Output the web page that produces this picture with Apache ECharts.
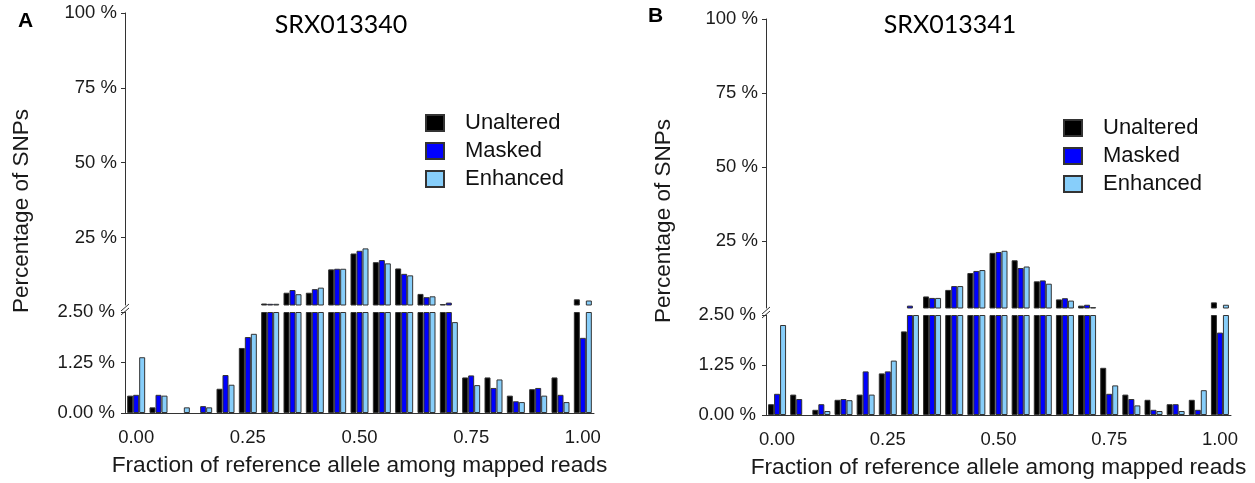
<!DOCTYPE html>
<html>
<head>
<meta charset="utf-8">
<script src="https://cdn.jsdelivr.net/npm/echarts@6/dist/echarts.min.js"></script>
<style>html,body{margin:0;padding:0;background:#fff}#c{width:1255px;height:483px}</style>
</head>
<body>
<div id="c"></div>
<script>
// ---- data (percentage of SNPs per bin) ----
const categories = ['0.00','0.05','0.10','0.15','0.20','0.25','0.30','0.35','0.40','0.45','0.50',
                    '0.55','0.60','0.65','0.70','0.75','0.80','0.85','0.90','0.95','1.00'];
const xTickLabels = ['0.00','0.25','0.50','0.75','1.00'];
const seriesNames = ['Unaltered','Masked','Enhanced'];
const panelTitles = ['SRX013340','SRX013341'];
const panelLetters = ['A','B'];

const aUnaltered = [0.43,0.14,0,0,0.60,1.61,3.0,6.6,6.6,14.4,19.7,16.8,14.7,6.2,2.8,0.88,0.88,0.43,0.59,0.88,4.4];
const aMasked    = [0.45,0.45,0,0.17,0.94,1.88,2.9,7.5,7.8,14.6,20.6,17.5,12.9,5.1,3.3,0.93,0.62,0.29,0.62,0.45,1.86];
const aEnhanced  = [1.38,0.43,0.14,0.14,0.70,1.96,2.9,6.1,8.3,14.6,21.4,16.4,12.4,5.4,2.25,0.69,0.83,0.27,0.43,0.27,4.0];

const bUnaltered = [0.27,0.51,0.13,0.38,0.51,1.04,2.09,6.4,8.6,14.3,21.1,18.6,11.5,5.4,3.3,1.18,0.51,0.38,0.27,0.38,4.4];
const bMasked    = [0.53,0.40,0.27,0.40,1.09,1.09,3.3,5.9,9.9,15.0,21.4,16.0,11.8,5.8,3.6,0.53,0.40,0.13,0.27,0.13,2.06];
const bEnhanced  = [2.25,0,0.10,0.37,0.51,1.36,2.5,5.9,9.9,15.3,21.8,16.5,10.7,5.0,2.8,0.74,0.24,0.10,0.10,0.62,3.6];

const yUpperTicks = [25,50,75,100];
const yLowerMax = 2.5;       // axis break value
const yLowerInterval = 1.25;
const yUpperMax = 100;

// ---- styling / layout ----
const FONT = 'Liberation Sans, Arial, sans-serif';
const AXIS = '#333';
const TXT = '#1a1a1a';
const colors = ['#000000','#0000ff','#87cefa'];
const panels = [
  {left:125, width:469, upTop:13, upH:292, loTop:312, loH:101, data:[aUnaltered,aMasked,aEnhanced],
   legendLeft:425, legendTop:112, titleX:341, titleY:25, letterX:18, letterY:22, yNameX:22, yNameY:211},
  {left:766, width:465, upTop:19, upH:289, loTop:315, loH:100, data:[bUnaltered,bMasked,bEnhanced],
   legendLeft:1063, legendTop:117, titleX:950, titleY:25, letterX:648, letterY:17, yNameX:664, yNameY:221}
];

const grid = [], xAxis = [], yAxis = [], series = [], legend = [], graphic = [];
const showIdx = (i) => xTickLabels.indexOf(categories[i]) >= 0;

panels.forEach((p, pi) => {
  grid.push({left:p.left, top:p.upTop, width:p.width, height:p.upH});
  grid.push({left:p.left, top:p.loTop, width:p.width, height:p.loH});
  const gu = pi*2, gl = pi*2+1;
  xAxis.push({type:'category', gridIndex:gu, data:categories, show:false});
  xAxis.push({type:'category', gridIndex:gl, data:categories,
    axisLine:{lineStyle:{color:AXIS, width:1}},
    axisTick:{alignWithLabel:true, interval:(i)=>showIdx(i), length:5, lineStyle:{color:AXIS}},
    axisLabel:{interval:(i)=>showIdx(i), fontSize:18.5, fontFamily:FONT, color:TXT, margin:15},
    name:'Fraction of reference allele among mapped reads', nameLocation:'middle', nameGap:41,
    nameTextStyle:{fontSize:22.7, fontFamily:FONT, color:TXT}
  });
  yAxis.push({type:'value', gridIndex:gu, min:yLowerMax, max:yUpperMax,
    axisLine:{show:true, lineStyle:{color:AXIS, width:1}},
    axisTick:{show:true, customValues:yUpperTicks, length:4, lineStyle:{color:AXIS}},
    axisLabel:{customValues:yUpperTicks, formatter:(v)=>v+' %', fontSize:18.5, fontFamily:FONT, color:TXT, margin:8},
    splitLine:{show:false}
  });
  yAxis.push({type:'value', gridIndex:gl, min:0, max:yLowerMax, interval:yLowerInterval,
    axisLine:{show:true, lineStyle:{color:AXIS, width:1}},
    axisTick:{show:true, length:4, lineStyle:{color:AXIS}},
    axisLabel:{formatter:(v)=>v.toFixed(2)+' %', fontSize:18.5, fontFamily:FONT, color:TXT, margin:10},
    splitLine:{show:false}
  });
  seriesNames.forEach((name, si) => {
    const vals = p.data[si];
    const style = {color:colors[si], borderColor:'#333', borderWidth:1};
    series.push({type:'bar', name, xAxisIndex:gu, yAxisIndex:gu, barGap:'0%', barWidth:6,
      clip:true, itemStyle:style, silent:true, animation:false,
      data: vals.map(v => v > yLowerMax ? v : '-')});
    series.push({type:'bar', name, xAxisIndex:gl, yAxisIndex:gl, barGap:'0%', barWidth:6,
      clip:true, itemStyle:style, silent:true, animation:false,
      data: vals.map(v => v > 0 ? Math.min(v, yLowerMax) : '-')});
  });
  legend.push({orient:'vertical', left:p.legendLeft, top:p.legendTop, padding:0, itemWidth:18, itemHeight:16, itemGap:6,
    icon:'rect', selectedMode:false, data:seriesNames,
    textStyle:{fontSize:22, lineHeight:22, fontFamily:FONT, color:'#111', padding:[0,0,0,16]}});
  graphic.push({type:'text', left:p.letterX, top:p.letterY-11,
    style:{text:panelLetters[pi], font:'bold 21px '+FONT, fill:'#000'}});
  graphic.push({type:'text', x:p.titleX, y:p.titleY,
    style:{text:panelTitles[pi], font:'25px Lato, "Open Sans", sans-serif', fill:'#000', align:'center', verticalAlign:'middle'}});
  graphic.push({type:'text', x:p.yNameX, y:p.yNameY, rotation:Math.PI/2,
    style:{text:'Percentage of SNPs', font:'22.5px '+FONT, fill:TXT, align:'center', verticalAlign:'middle'}});
  // axis break marks "//"
  const ax = p.left, yb = p.loTop;
  graphic.push({type:'rect', shape:{x:ax-2, y:yb-6, width:4, height:5}, style:{fill:'#fff'}});
  graphic.push({type:'line', shape:{x1:ax-4, y1:yb-1, x2:ax+4, y2:yb-8}, style:{stroke:AXIS, lineWidth:1}});
  graphic.push({type:'line', shape:{x1:ax-4, y1:yb+3, x2:ax+4, y2:yb-4}, style:{stroke:AXIS, lineWidth:1}});
});

const chart = echarts.init(document.getElementById('c'), null, {renderer:'canvas'});
chart.setOption({animation:false, backgroundColor:'#fff', grid, xAxis, yAxis, series, legend, graphic});
</script>
</body>
</html>
